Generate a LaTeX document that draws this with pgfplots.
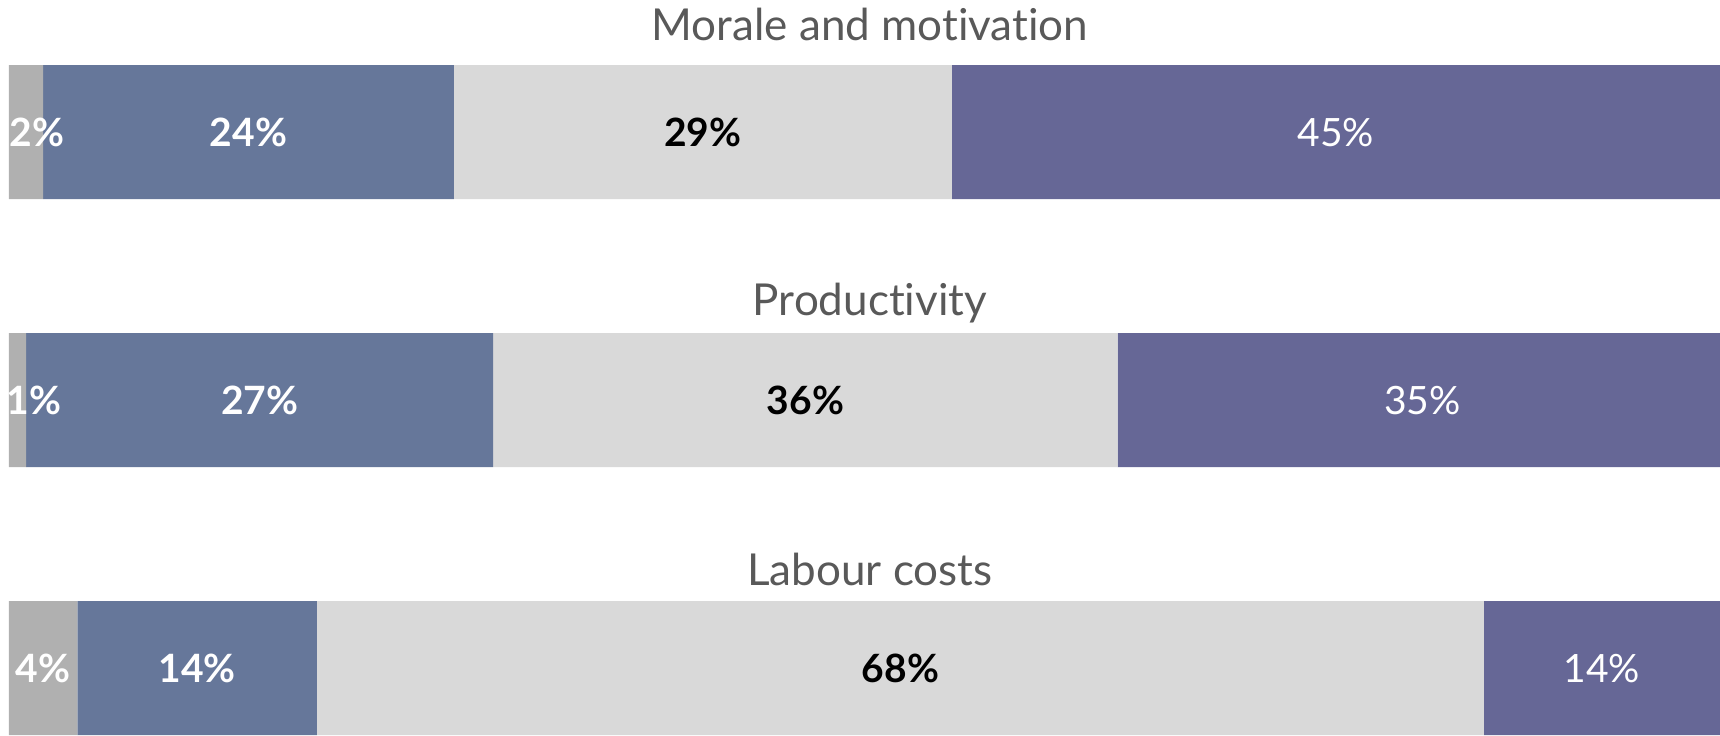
\documentclass[border=0pt]{standalone}
\usepackage{fontspec}
\setmainfont{Lato}[Ligatures=NoCommon]
\usepackage{pgfplots}
\pgfplotsset{compat=1.18}
\definecolor{dgray}{HTML}{B0B0B0}
\definecolor{mblue}{HTML}{66779A}
\definecolor{lgray}{HTML}{D9D9D9}
\definecolor{mpurple}{HTML}{666796}
\definecolor{ttl}{HTML}{595959}
\begin{document}
\begin{tikzpicture}
\path[use as bounding box] (0,0) rectangle (860pt,-367.5pt);
\pgfplotsset{base/.style={scale only axis, width=855.5pt, height=335pt,
  xmin=0, xmax=100, ymin=-0.25, ymax=2.25, hide axis,
  at={(4.5pt,-32.5pt)}, anchor=north west},
  lab/.style={draw=none, mark=none, nodes near coords={\pgfplotspointmeta\%},
  point meta=explicit symbolic,
  every node near coord/.style={anchor=base, yshift=-7pt, inner sep=0pt, text=#1}}}
\begin{axis}[base, xbar stacked, bar width=67pt]
\addplot[fill=dgray, draw=none] coordinates {(2,2) (1,1) (4,0)};
\addplot[fill=mblue, draw=none] coordinates {(24,2) (27.3,1) (14,0)};
\addplot[fill=lgray, draw=none] coordinates {(29.1,2) (36.5,1) (68.2,0)};
\addplot[fill=mpurple, draw=none] coordinates {(44.9,2) (35.2,1) (13.8,0)};
\end{axis}
\begin{axis}[base, clip=false]
\addplot[lab=white, every node near coord/.append style={font=\bfseries\fontsize{19.5}{22}\selectfont}] table[meta=lab] {
x y lab
1.64 2 2
14 2 24
1.45 1 1
14.65 1 27
2 0 4
11 0 14
};
\addplot[lab=black, every node near coord/.append style={font=\bfseries\fontsize{19.5}{22}\selectfont}] table[meta=lab] {
x y lab
40.55 2 29
46.55 1 36
52.1 0 68
};
\addplot[lab=white, every node near coord/.append style={font=\fontsize{19.5}{22}\selectfont}] table[meta=lab] {
x y lab
77.55 2 45
82.6 1 35
93.1 0 14
};
\end{axis}
\begin{scope}[every node/.style={anchor=base, inner sep=0pt, text=ttl, font=\fontsize{22}{26}\selectfont}]
\node at (435pt,-20pt) {Morale and motivation};
\node at (435pt,-157.5pt) {Productivity};
\node at (435pt,-292.5pt) {Labour costs};
\end{scope}
\end{tikzpicture}
\end{document}
